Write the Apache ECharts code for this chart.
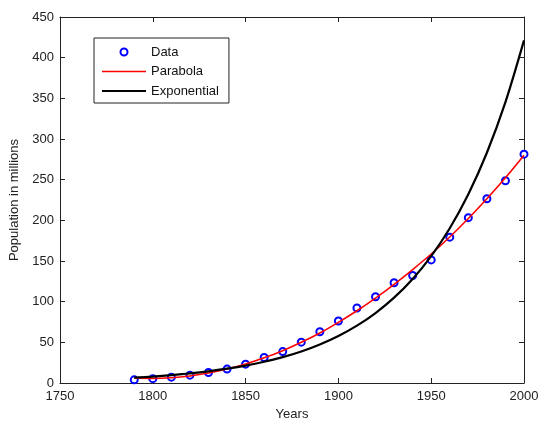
<!DOCTYPE html>
<html><head><meta charset="utf-8">
<script src="https://cdn.jsdelivr.net/npm/echarts@6/dist/echarts.min.js"></script>
<style>html,body{margin:0;padding:0;background:#fff}#c{width:541px;height:421px}</style>
</head><body><div id="c"></div>
<script>
const years = [1790,1800,1810,1820,1830,1840,1850,1860,1870,1880,1890,1900,1910,1920,1930,1940,1950,1960,1970,1980,1990,2000];
const population = [3.9,5.3,7.2,9.6,12.9,17.1,23.2,31.4,38.6,50.2,63.0,76.2,92.2,106.0,123.2,132.2,151.3,179.3,203.3,226.5,248.7,281.4];
const parabola = [6.1,5.6,6.5,8.7,12.2,17.1,23.3,30.9,39.7,50.0,61.5,74.6,88.8,104.3,121.3,139.5,158.6,179.5,202.2,226.5,252.3,280.0];
const exponential = [6.5,7.9,9.7,11.8,14.4,17.6,21.4,26.1,31.8,38.8,47.4,57.8,70.5,86.0,104.9,127.9,156.0,190.3,232.1,283.1,345.3,421.2];
const xTickValues = [1750,1800,1850,1900,1950,2000];
const yTickValues = [0,50,100,150,200,250,300,350,400,450];
const seriesNames = ['Data','Parabola','Exponential'];

const FONT = 'Liberation Sans, Arial, Helvetica, sans-serif';
const ink = '#222';
const pair = arr => years.map((y, i) => [y, arr[i]]);

const xBase = {
  type: 'value', min: xTickValues[0], max: xTickValues[xTickValues.length - 1],
  interval: xTickValues[1] - xTickValues[0],
  splitLine: { show: false },
  axisLine: { show: true, onZero: false, lineStyle: { color: ink, width: 1 } },
  axisTick: { show: true, inside: true, length: 5, lineStyle: { color: ink } }
};
const yBase = {
  type: 'value', min: yTickValues[0], max: yTickValues[yTickValues.length - 1],
  interval: yTickValues[1] - yTickValues[0],
  splitLine: { show: false },
  axisLine: { show: true, onZero: false, lineStyle: { color: ink, width: 1 } },
  axisTick: { show: true, inside: true, length: 5, lineStyle: { color: ink } }
};

const chart = echarts.init(document.getElementById('c'), null, { renderer: 'canvas' });
chart.setOption({
  backgroundColor: '#fff',
  animation: false,
  textStyle: { fontFamily: FONT },
  grid: { left: 60, right: 17, top: 17, bottom: 38, containLabel: false, outerBoundsMode: 'none' },
  xAxis: [
    Object.assign({}, xBase, {
      position: 'bottom',
      name: 'Years', nameLocation: 'middle', nameGap: 24,
      nameTextStyle: { color: ink, fontSize: 13, fontFamily: FONT },
      axisLabel: { color: ink, fontSize: 13, margin: 7, fontFamily: FONT, formatter: v => String(v) }
    }),
    Object.assign({}, xBase, { position: 'top', axisLabel: { show: false } })
  ],
  yAxis: [
    Object.assign({}, yBase, {
      position: 'left',
      name: 'Population in millions', nameLocation: 'middle', nameGap: 26, nameRotate: 90,
      nameTextStyle: { color: ink, fontSize: 13, fontFamily: FONT },
      axisLabel: { color: ink, fontSize: 13, margin: 6, fontFamily: FONT, formatter: v => String(v) }
    }),
    Object.assign({}, yBase, { position: 'right', axisLabel: { show: false } })
  ],
  legend: {
    orient: 'vertical', left: 94, top: 38,
    padding: [7, 10, 5, 8],
    itemWidth: 44, itemHeight: 7, itemGap: 5.5,
    backgroundColor: '#fff', borderColor: ink, borderWidth: 1, borderRadius: 0,
    textStyle: { color: '#111', fontSize: 13, lineHeight: 14, fontFamily: FONT },
    selectedMode: false,
    data: [
      { name: seriesNames[0], icon: 'emptyCircle' },
      { name: seriesNames[1], icon: 'path://M0,0L44,0L44,1.6L0,1.6Z' },
      { name: seriesNames[2], icon: 'path://M0,0L44,0L44,2.2L0,2.2Z' }
    ]
  },
  series: [
    {
      name: seriesNames[0], type: 'scatter', xAxisIndex: 0, yAxisIndex: 0,
      symbol: 'emptyCircle', symbolSize: 7,
      itemStyle: { color: '#0000ff', borderColor: '#0000ff', borderWidth: 1.6, opacity: 1 },
      data: pair(population), z: 2
    },
    {
      name: seriesNames[1], type: 'line', xAxisIndex: 0, yAxisIndex: 0,
      showSymbol: false, symbol: 'none', smooth: 0.3,
      lineStyle: { color: '#ff0000', width: 1.6 }, itemStyle: { color: '#ff0000' },
      data: pair(parabola), z: 3
    },
    {
      name: seriesNames[2], type: 'line', xAxisIndex: 0, yAxisIndex: 0,
      showSymbol: false, symbol: 'none', smooth: 0.3,
      lineStyle: { color: '#000', width: 2.2 }, itemStyle: { color: '#000' },
      data: pair(exponential), z: 4
    }
  ]
});
</script></body></html>
